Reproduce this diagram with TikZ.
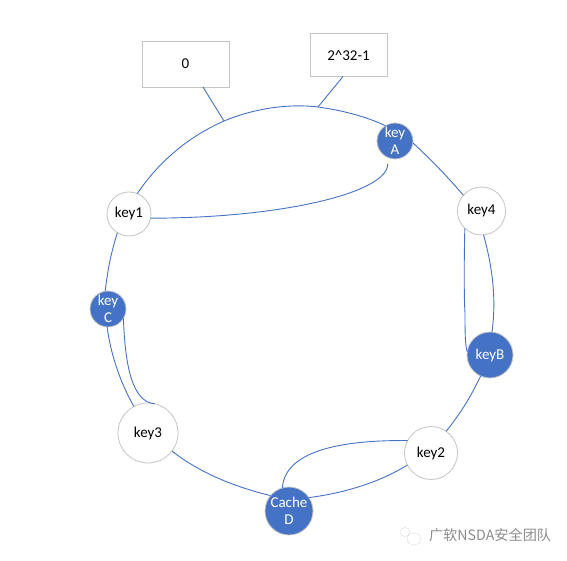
\documentclass[tikz,border=0pt]{standalone}
\usepackage{fontspec}
\setmainfont{Carlito}
\newfontfamily\cjk{Noto Sans CJK SC}
\definecolor{ringblue}{HTML}{4472C4}
\definecolor{rimgray}{HTML}{C4C4C4}
\definecolor{markgray}{HTML}{8C8C8C}

\begin{document}
\begin{tikzpicture}[x = 1pt, y = -1pt, % picture in pixels
                semithick, line width = 0.9pt % line style
            ]

            \tikzstyle{every node}=[inner sep = 0pt, outer sep = 0pt, align = center,
            font = \fontsize{15}{17}\selectfont]
            \tikzstyle{whitekey}=[draw = rimgray, fill = white, circle, line width = 0.8pt]
            \tikzstyle{bluekey}=[draw = rimgray, fill = ringblue, circle, text = white, line width = 0.8pt]
            \tikzstyle{label box}=[draw = rimgray, fill = white, line width = 0.8pt]
            \tikzstyle{ring}=[draw = ringblue]

            \useasboundingbox (0,0) rectangle (567,561);

            \node (zero) [label box, minimum width = 87pt, minimum height = 46pt] at (185.5,64) {0};
            \node (max) [label box, minimum width = 77pt, minimum height = 43pt] at (348.5,55) {2\textasciicircum 32-1};

            \node (keyA) [bluekey, minimum size = 36pt] at (395,141) {key\\A};
            \node (key1) [whitekey, minimum size = 44pt] at (129,214) {key1};
            \node (key4) [whitekey, minimum size = 48pt] at (481.5,211) {key4};
            \node (keyB) [bluekey, minimum size = 46pt] at (490,355) {keyB};
            \node (key2) [whitekey, minimum size = 53pt] at (431,453) {key2};
            \node (cacheD) [bluekey, minimum size = 48pt] at (289,511) {Cache\\D};
            \node (key3) [whitekey, minimum size = 60pt] at (148,433) {key3};
            \node (keyC) [bluekey, minimum size = 36pt] at (108,309) {key\\C};

            \coordinate (zerotick) at (224,121);
            \coordinate (maxtick) at (318,107);
            \coordinate (keyAfoot) at (387.7,164);

            % outer ring
            \path[ring] (key1.68) .. controls (160,160) and (190,136) .. (zerotick);
            \path[ring] (zerotick) .. controls (250,110) and (285,103) .. (maxtick);
            \path[ring] (maxtick) .. controls (340,110) and (365,116) .. (keyA.122);
            \path[ring] (keyA.-6) edge[bend left = 3] (key4.139);
            \path[ring] (key4.-85) .. controls (491,262) and (497,295) .. (keyB.85);
            \path[ring] (keyB.-114) edge[bend left = 6] (key2.55);
            \path[ring] (key2.207) .. controls (380,482) and (345,493) .. (cacheD.34);
            \path[ring] (cacheD.140) .. controls (235,487) and (200,473) .. (key3.-37);
            \path[ring] (key3.118) .. controls (120,382) and (111,355) .. (keyC.-93);
            \path[ring] (keyC.99) edge[bend left = 5] (key1.-122);

            % inner returns
            \path[ring] (keyAfoot) .. controls (388,192) and (285,218) .. (key1.-11);
            \path[ring] (key4.-134) .. controls (464,260) and (464,300) .. (465,313)
                .. controls (465,330) and (465,345) .. (keyB.172);
            \path[ring] (key2.152) .. controls (350,440) and (285,448) .. (cacheD.106);
            \path[ring] (keyC.-31) .. controls (125,365) and (132,402) .. (key3.77);

            % box stems
            \path[ring] (zero.south) ++(17.5,0) coordinate (zerofoot);
            \path[ring] (max.south) ++(-5.5,0) coordinate (maxfoot);
            \draw[ringblue] (zerofoot) -- (zerotick);
            \draw[ringblue] (maxfoot) -- (maxtick);

            % watermark
            \node (mark) [text = markgray, anchor = west, font = \fontsize{14.2}{16}\selectfont] at (429,535) {\cjk 广软NSDA安全团队};
            \draw[rimgray, line width = 0.6pt, densely dotted] (405,532) ellipse (5pt and 4.5pt);
            \draw[rimgray, line width = 0.6pt, densely dotted] (414,539) ellipse (7pt and 6pt);
\end{tikzpicture}
\end{document}
